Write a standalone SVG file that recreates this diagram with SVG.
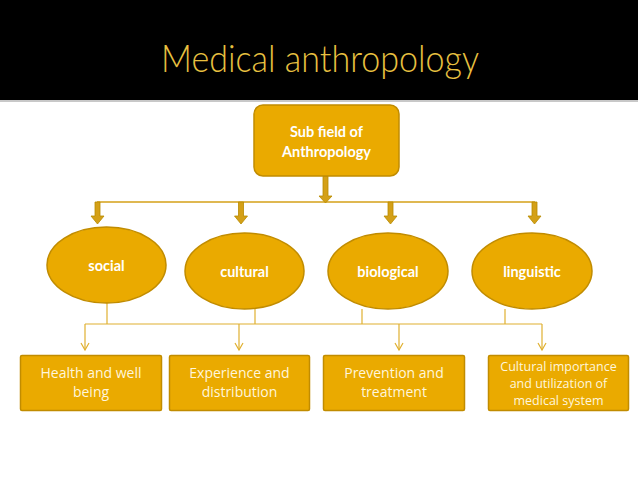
<svg xmlns="http://www.w3.org/2000/svg" width="638" height="479" viewBox="0 0 638 479">
<style>
.fill{fill:#EAAA00;stroke:#C18C00;stroke-width:1.5}
.lbl{font-family:Lato,"Open Sans",sans-serif;font-weight:bold;font-size:14.5px;fill:#fff;text-anchor:middle}
.box{font-family:"Open Sans",Lato,sans-serif;font-size:14px;fill:#FFF6DC;text-anchor:middle}
.small{font-size:12.5px}
.thin{stroke:#E0B030;stroke-width:1.2;fill:none}
.blk{fill:#D4A017;stroke:#B88A00;stroke-width:0.8}
</style>
<defs>
<marker id="v" markerWidth="10" markerHeight="10" refX="8" refY="5" orient="auto" markerUnits="userSpaceOnUse" viewBox="0 0 10 10">
<path d="M1,1 L8,5 L1,9" fill="none" stroke="#E0B030" stroke-width="1.2"/>
</marker>
</defs>
<rect x="0" y="0" width="638" height="479" fill="#fff"/>
<rect x="0" y="0" width="638" height="100" fill="#000"/>
<rect x="0" y="100" width="638" height="2" fill="#c8c8c8"/>
<text x="320" y="72" font-family="Lato,'Open Sans',sans-serif" font-weight="300" font-size="38" fill="#E8C040" text-anchor="middle" textLength="318" lengthAdjust="spacingAndGlyphs">Medical anthropology</text>

<g id="connectors">
<line x1="97" y1="202" x2="535" y2="202" stroke="#D4A017" stroke-width="1.5"/>
<path class="blk" d="M323,176 h5 v20 h4 l-6.5,7 l-6.5,-7 h4 z"/>
<path class="blk" d="M95,202 h5 v14 h4 l-6.5,8 l-6.5,-8 h4 z"/>
<path class="blk" d="M238.5,202 h5 v14 h4 l-6.5,8 l-6.5,-8 h4 z"/>
<path class="blk" d="M388,202 h5 v14 h4 l-6.5,8 l-6.5,-8 h4 z"/>
<path class="blk" d="M532,202 h5 v14 h4 l-6.5,8 l-6.5,-8 h4 z"/>
<line class="thin" x1="107" y1="303" x2="107" y2="324"/>
<line class="thin" x1="255" y1="309" x2="255" y2="324"/>
<line class="thin" x1="362" y1="309" x2="362" y2="324"/>
<line class="thin" x1="505" y1="309" x2="505" y2="324"/>
<line class="thin" x1="85" y1="324" x2="542" y2="324"/>
<line class="thin" x1="85" y1="324" x2="85" y2="350" marker-end="url(#v)"/>
<line class="thin" x1="239" y1="324" x2="239" y2="350" marker-end="url(#v)"/>
<line class="thin" x1="399" y1="324" x2="399" y2="350" marker-end="url(#v)"/>
<line class="thin" x1="542" y1="324" x2="542" y2="350" marker-end="url(#v)"/>
</g>

<g id="root">
<rect class="fill" x="254" y="105" width="145" height="71" rx="9"/>
<text class="lbl" x="326.5" y="137">Sub field of</text>
<text class="lbl" x="326.5" y="157">Anthropology</text>
</g>

<g id="social">
<ellipse class="fill" cx="106.5" cy="265" rx="59.5" ry="38"/>
<text class="lbl" x="106.5" y="271">social</text>
</g>
<g id="cultural">
<ellipse class="fill" cx="244.5" cy="271" rx="59.5" ry="38"/>
<text class="lbl" x="244.5" y="277">cultural</text>
</g>
<g id="biological">
<ellipse class="fill" cx="388" cy="271" rx="60" ry="38"/>
<text class="lbl" x="388" y="277">biological</text>
</g>
<g id="linguistic">
<ellipse class="fill" cx="532" cy="271" rx="60" ry="38"/>
<text class="lbl" x="532" y="277">linguistic</text>
</g>

<g id="health">
<rect class="fill" x="20.5" y="355.5" width="141" height="55" rx="1.5"/>
<text class="box" x="91" y="378">Health and well</text>
<text class="box" x="91" y="397">being</text>
</g>
<g id="experience">
<rect class="fill" x="169.5" y="355.5" width="140" height="55" rx="1.5"/>
<text class="box" x="239.5" y="378">Experience and</text>
<text class="box" x="239.5" y="397">distribution</text>
</g>
<g id="prevention">
<rect class="fill" x="323.5" y="355.5" width="141" height="55" rx="1.5"/>
<text class="box" x="394" y="378">Prevention and</text>
<text class="box" x="394" y="397">treatment</text>
</g>
<g id="cultural-importance">
<rect class="fill" x="488.5" y="355.5" width="140" height="55" rx="1.5"/>
<text class="box small" x="558.5" y="371">Cultural importance</text>
<text class="box small" x="558.5" y="388">and utilization of</text>
<text class="box small" x="558.5" y="405">medical system</text>
</g>
</svg>
